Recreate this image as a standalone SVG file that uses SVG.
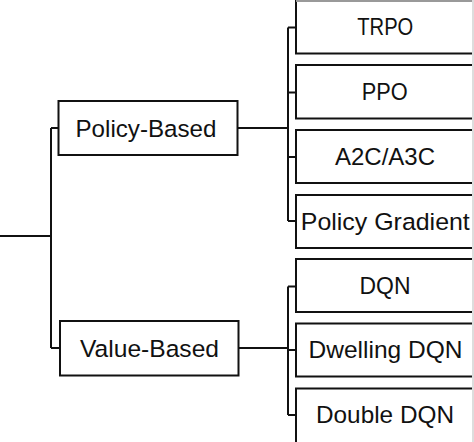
<svg xmlns="http://www.w3.org/2000/svg" width="474" height="442" viewBox="0 0 474 442">
<style>
.box{fill:#fff;stroke:#111;stroke-width:2}
.ln{fill:none;stroke:#111;stroke-width:2}
.t{font-family:"Liberation Sans",Arial,sans-serif;font-size:24.5px;fill:#111;text-anchor:middle}
</style>
<rect width="474" height="442" fill="#fff"/>
<g id="connectors">
<path class="ln" d="M0,236 H51 M51,128 V348 M51,128 H58.5 M51,348 H60"/>
<path class="ln" d="M237.5,128 H288 M288,27.5 V221 M288,27.5 H296 M288,92.5 H296 M288,157 H296 M288,221 H296"/>
<path class="ln" d="M238.5,348 H288 M288,286.5 V415 M288,286.5 H296 M288,350 H296 M288,415 H296"/>
</g>
<g id="policy-based"><rect class="box" x="58.5" y="101" width="179" height="54"/><text class="t" x="146" y="136.5" textLength="141" lengthAdjust="spacingAndGlyphs">Policy-Based</text></g>
<g id="value-based"><rect class="box" x="60" y="321" width="178.5" height="54.5"/><text class="t" x="149.5" y="356.5" textLength="139" lengthAdjust="spacingAndGlyphs">Value-Based</text></g>
<g id="trpo"><rect class="box" x="296" y="1" width="200" height="52.5"/><text class="t" x="385.3" y="35" textLength="56" lengthAdjust="spacingAndGlyphs">TRPO</text></g>
<g id="ppo"><rect class="box" x="296" y="65" width="200" height="53.5"/><text class="t" x="384.7" y="100" textLength="46" lengthAdjust="spacingAndGlyphs">PPO</text></g>
<g id="a2c"><rect class="box" x="296" y="130" width="200" height="53"/><text class="t" x="385" y="165" textLength="100" lengthAdjust="spacingAndGlyphs">A2C/A3C</text></g>
<g id="pg"><rect class="box" x="296" y="195" width="200" height="53"/><text class="t" x="385.3" y="230" textLength="169" lengthAdjust="spacingAndGlyphs">Policy Gradient</text></g>
<g id="dqn"><rect class="box" x="296" y="259" width="200" height="53"/><text class="t" x="385" y="294" textLength="51" lengthAdjust="spacingAndGlyphs">DQN</text></g>
<g id="dwelling"><rect class="box" x="296" y="323.5" width="200" height="53"/><text class="t" x="385.5" y="358" textLength="154" lengthAdjust="spacingAndGlyphs">Dwelling DQN</text></g>
<g id="double"><rect class="box" x="296" y="388.5" width="200" height="80"/><text class="t" x="385" y="422.5" textLength="138" lengthAdjust="spacingAndGlyphs">Double DQN</text></g>
<path d="M296,1 H474" stroke="#999" stroke-width="2"/>
<path d="M473,0 V442" stroke="#ddd" stroke-width="2"/>
</svg>
